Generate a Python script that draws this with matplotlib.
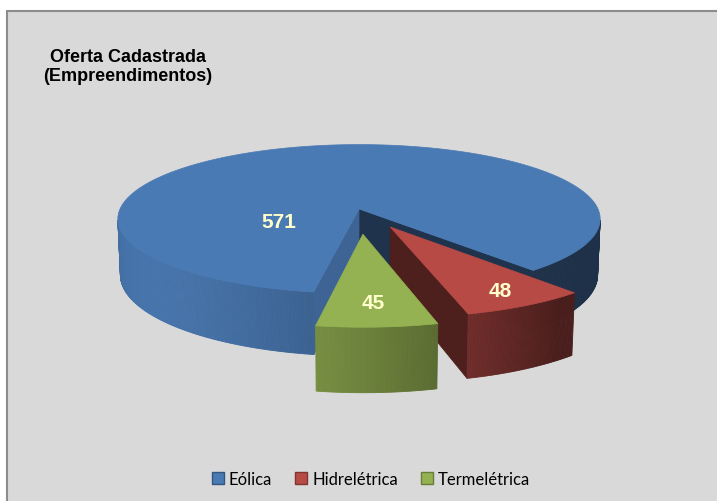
import numpy as np
import matplotlib
matplotlib.use('Agg')
import matplotlib.pyplot as plt
from matplotlib.patches import Polygon, Rectangle, Patch
from matplotlib.colors import to_rgb

# data
categories = ['Eólica', 'Hidrelétrica', 'Termelétrica']
values = [571, 48, 45]
top_colors = ['#4A7AB4', '#B84A46', '#95B252']
explode = [0.0, 0.27, 0.33]
label_radius = [0.37, 0.83, 0.76]
label_angle = [208, None, None]   # None -> middle of the slice

W, H = 717, 502
fig = plt.figure(figsize=(W / 100, H / 100), dpi=100)
fig.patch.set_facecolor('white')
ax = fig.add_axes([0, 0, 1, 1])
ax.set_xlim(0, W)
ax.set_ylim(H, 0)
ax.axis('off')

# chart area
ax.add_patch(Rectangle((7, 12), 720, 500, facecolor='#d9d9d9', edgecolor='#8c8c8c', lw=1.5))

# simple perspective camera for the 3d pie
cx, cy, k = 359, 210, 239
phi = np.radians(17.8)
D = 7.1
h = 0.245
cam = np.array([0, -D * np.cos(phi), D * np.sin(phi)])


def project(X, Y, Z):
    yc = Y * np.sin(phi) + Z * np.cos(phi)
    zc = -Y * np.cos(phi) + Z * np.sin(phi)
    s = D / (D - zc)
    return np.column_stack([cx + k * X * s, cy - k * yc * s])


def shade(color, f):
    return tuple(np.clip(np.array(to_rgb(color)) * f, 0, 1))


def light(theta):
    d = -0.8 * np.cos(theta) - 0.6 * np.sin(theta)
    return 0.4 + 0.55 * max(0.0, d)


# slice angles (clockwise from first slice)
total = sum(values)
a_end = 260.5
slices = []
for v in values:
    span = v / total * 360
    slices.append((a_end - span, a_end))
    a_end -= span

for i, (a0, a1) in enumerate(slices):
    col = top_colors[i]
    mid = np.radians((a0 + a1) / 2)
    ox, oy = explode[i] * np.cos(mid), explode[i] * np.sin(mid)
    t = np.radians(np.linspace(a0, a1, int(a1 - a0) * 2 + 2))

    # radial faces
    for ang, sgn, f in [(a0, -1, 0.42), (a1, 1, 0.82)]:
        r = np.radians(ang)
        n = np.array([np.cos(r + sgn * np.pi / 2), np.sin(r + sgn * np.pi / 2), 0])
        pm = np.array([ox + 0.5 * np.cos(r), oy + 0.5 * np.sin(r), -h / 2])
        if np.dot(cam - pm, n) > 0:
            X = np.array([ox, ox + np.cos(r), ox + np.cos(r), ox])
            Y = np.array([oy, oy + np.sin(r), oy + np.sin(r), oy])
            Z = np.array([0, 0, -h, -h])
            c = shade(col, f)
            ax.add_patch(Polygon(project(X, Y, Z), closed=True, facecolor=c, edgecolor=c, lw=0.5))

    # outer wall, drawn as thin strips
    for j in range(len(t) - 1):
        tm = (t[j] + t[j + 1]) / 2
        vis = -D * np.cos(phi) * np.sin(tm) - ox * np.cos(tm) - oy * np.sin(tm) - 1
        if vis <= 0:
            continue
        tt = np.array([t[j], t[j + 1], t[j + 1], t[j]])
        Z = np.array([0, 0, -h, -h])
        c = shade(col, light(tm))
        ax.add_patch(Polygon(project(ox + np.cos(tt), oy + np.sin(tt), Z), closed=True,
                             facecolor=c, edgecolor=c, lw=0.6))

    # top face
    X = np.concatenate([[ox], ox + np.cos(t)])
    Y = np.concatenate([[oy], oy + np.sin(t)])
    ax.add_patch(Polygon(project(X, Y, np.zeros_like(X)), closed=True,
                         facecolor=col, edgecolor=col, lw=0.5))

# value labels
for i, (a0, a1) in enumerate(slices):
    mid = np.radians((a0 + a1) / 2)
    ox, oy = explode[i] * np.cos(mid), explode[i] * np.sin(mid)
    la = np.radians(label_angle[i]) if label_angle[i] is not None else mid
    p = project(np.array([ox + label_radius[i] * np.cos(la)]),
                np.array([oy + label_radius[i] * np.sin(la)]), np.array([0.0]))[0]
    ax.text(p[0], p[1], str(values[i]), ha='center', va='center', fontsize=15,
            fontweight='bold', color='#FFFFCC', family=['Liberation Sans', 'DejaVu Sans'])

# title
ax.text(128, 67, 'Oferta Cadastrada\n(Empreendimentos)', ha='center', va='center',
        fontsize=13, fontweight='bold', linespacing=1.2,
        family=['Liberation Sans', 'DejaVu Sans'])

# legend
handles = [Patch(facecolor=c, edgecolor=shade(c, 0.7)) for c in top_colors]
fig.legend(handles, categories, loc='center', bbox_to_anchor=(371 / W, 1 - 480 / H),
           ncol=3, frameon=False, handlelength=0.7, handleheight=0.7,
           handletextpad=0.3, columnspacing=1.4,
           prop={'family': ['Lato', 'DejaVu Sans'], 'size': 12})

fig.savefig('out.png', dpi=100, facecolor='white')
